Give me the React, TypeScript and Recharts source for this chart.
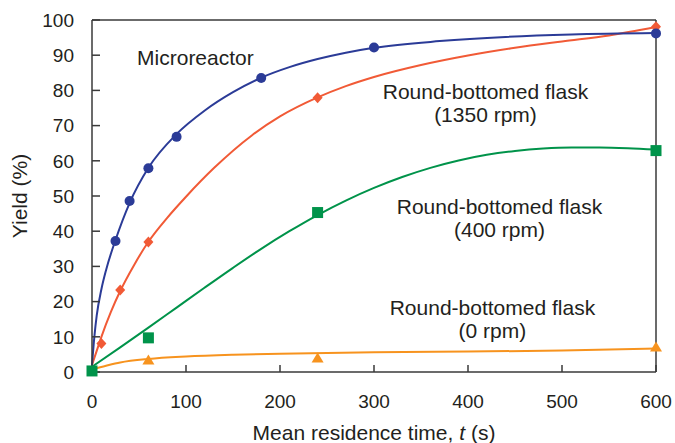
import React from "react";
import {
  ComposedChart,
  Line,
  Scatter,
  XAxis,
  YAxis,
  ReferenceLine,
  ReferenceDot,
} from "recharts";

// ---- data ----
const xTicks = [0, 100, 200, 300, 400, 500, 600];
const yTicks = [0, 10, 20, 30, 40, 50, 60, 70, 80, 90, 100];

// measured points
const microX = [25, 40, 60, 90, 180, 300, 600];
const microY = [37.2, 48.6, 57.9, 66.8, 83.5, 92.2, 96.2];
const rpm1350X = [10, 30, 60, 240, 600];
const rpm1350Y = [8.1, 23.3, 36.9, 77.9, 98.1];
const rpm400X = [0, 60, 240, 600];
const rpm400Y = [0.3, 9.7, 45.3, 62.9];
const rpm0X = [60, 240, 600];
const rpm0Y = [3.4, 4.0, 7.1];

// fitted curves
const microCurveX = [0, 2.5, 5, 10, 15, 25, 40, 60, 90, 120, 150, 180, 210, 240, 270, 300, 370, 440, 510, 600];
const microCurveY = [2, 10, 16, 23.5, 29, 37.5, 48, 58, 67.6, 74.3, 79.5, 83.6, 86.6, 88.9, 90.7, 92.1, 94.0, 95.2, 95.9, 96.3];
const c1350X = [0, 5, 10, 20, 30, 45, 60, 80, 100, 130, 170, 200, 240, 270, 300, 350, 400, 450, 500, 550, 600];
const c1350Y = [2, 6, 10, 17, 23, 30.5, 37, 43.8, 49.8, 58.0, 67.2, 72.6, 78.0, 81.2, 83.8, 87.2, 89.9, 92.1, 93.9, 95.6, 98];
const c400X = [0, 30, 60, 90, 120, 150, 180, 210, 240, 270, 300, 330, 360, 390, 420, 450, 480, 510, 540, 570, 600];
const c400Y = [1.5, 7.0, 12.6, 18.3, 24.0, 29.6, 35.0, 40.0, 44.6, 48.7, 52.3, 55.4, 58.0, 60.1, 61.7, 62.8, 63.5, 63.8, 63.8, 63.6, 63.2];
const c0X = [0, 15, 30, 60, 100, 150, 200, 300, 400, 500, 600];
const c0Y = [0.8, 1.8, 2.7, 3.7, 4.4, 4.9, 5.2, 5.6, 5.8, 6.1, 6.7];

// annotations
const annotationLines = [
  ["Microreactor"],
  ["Round-bottomed flask", "(1350 rpm)"],
  ["Round-bottomed flask", "(400 rpm)"],
  ["Round-bottomed flask", "(0 rpm)"],
];
const annotationX = [110, 418.6, 433.5, 426];
const annotationY = [87.2, 77.6, 44.9, 16.2];

const xTitle = "Mean residence time, ";
const xTitleVar = "t";
const xTitleUnit = " (s)";
const yTitle = "Yield (%)";

// ---- styles ----
const FONT = "'Liberation Sans', Arial, Helvetica, sans-serif";
const TEXT = "#231f20";
const AXIS = "#3a3a3a";
const BLUE = "#2b3b97";
const RED = "#f15a36";
const GREEN = "#00934a";
const ORANGE = "#f7931e";

const zip = (xs: number[], ys: number[]) => xs.map((x, i) => ({ x, y: ys[i] }));

const Circle = (color: string) => (p: any) =>
  <circle cx={p.cx} cy={p.cy} r={5} fill={color} />;
const Diamond = (color: string) => (p: any) =>
  <polygon
    points={`${p.cx},${p.cy - 5.5} ${p.cx + 5},${p.cy} ${p.cx},${p.cy + 5.5} ${p.cx - 5},${p.cy}`}
    fill={color}
  />;
const Square = (color: string) => (p: any) =>
  <rect x={p.cx - 5.5} y={p.cy - 5.5} width={11} height={11} fill={color} />;
const Triangle = (color: string) => (p: any) =>
  <polygon
    points={`${p.cx},${p.cy - 5.5} ${p.cx + 6},${p.cy + 4.5} ${p.cx - 6},${p.cy + 4.5}`}
    fill={color}
  />;

const annotationLabel = (lines: string[]) => (props: any) => {
  const vb = props.viewBox || {};
  const cx = (vb.x ?? 0) + (vb.width ?? 0) / 2;
  const cy = (vb.y ?? 0) + (vb.height ?? 0) / 2;
  return (
    <text x={cx} y={cy} textAnchor="middle" fontFamily={FONT} fontSize={21} fill={TEXT}>
      {lines.map((l, i) => (
        <tspan key={i} x={cx} y={cy + i * 23}>
          {l}
        </tspan>
      ))}
    </text>
  );
};

const XTitle = (props: any) => {
  const vb = props.viewBox;
  return (
    <text
      x={vb.x + vb.width / 2}
      y={vb.y + 68}
      textAnchor="middle"
      fontFamily={FONT}
      fontSize={21}
      fill={TEXT}
    >
      {xTitle}
      <tspan fontStyle="italic">{xTitleVar}</tspan>
      {xTitleUnit}
    </text>
  );
};

const YTitle = (props: any) => {
  const vb = props.viewBox;
  const x = 27;
  const y = vb.y + vb.height / 2;
  return (
    <text
      x={x}
      y={y}
      textAnchor="middle"
      fontFamily={FONT}
      fontSize={21}
      fill={TEXT}
      transform={`rotate(-90, ${x}, ${y})`}
    >
      {yTitle}
    </text>
  );
};

export default function App() {
  const tickStyle = { fontFamily: FONT, fontSize: 19, fill: TEXT };
  return (
    <div style={{ position: "absolute", left: 0, top: 0 }}>
      <ComposedChart width={675} height={443} margin={{ top: 20, right: 19, bottom: 0, left: 0 }}>
        <XAxis
          type="number"
          dataKey="x"
          domain={[0, 600]}
          ticks={xTicks}
          height={71}
          tickSize={-7}
          tickMargin={30}
          tick={tickStyle}
          stroke={AXIS}
          strokeWidth={1.5}
          interval={0}
          label={<XTitle />}
        />
        <YAxis
          type="number"
          dataKey="y"
          domain={[0, 100]}
          ticks={yTicks}
          width={92}
          tickSize={-8}
          tickMargin={26}
          tick={tickStyle}
          stroke={AXIS}
          strokeWidth={1.5}
          interval={0}
          label={<YTitle />}
        />
        <ReferenceLine y={100} stroke={AXIS} strokeWidth={1.5} />
        <ReferenceLine x={600} stroke={AXIS} strokeWidth={1.5} />

        <Line data={zip(c0X, c0Y)} dataKey="y" type="monotone" stroke={ORANGE} strokeWidth={2} dot={false} isAnimationActive={false} />
        <Line data={zip(c400X, c400Y)} dataKey="y" type="monotone" stroke={GREEN} strokeWidth={2} dot={false} isAnimationActive={false} />
        <Line data={zip(c1350X, c1350Y)} dataKey="y" type="monotone" stroke={RED} strokeWidth={2} dot={false} isAnimationActive={false} />
        <Line data={zip(microCurveX, microCurveY)} dataKey="y" type="monotone" stroke={BLUE} strokeWidth={2} dot={false} isAnimationActive={false} />

        <Scatter data={zip(rpm0X, rpm0Y)} dataKey="y" shape={Triangle(ORANGE)} isAnimationActive={false} />
        <Scatter data={zip(rpm400X, rpm400Y)} dataKey="y" shape={Square(GREEN)} isAnimationActive={false} />
        <Scatter data={zip(rpm1350X, rpm1350Y)} dataKey="y" shape={Diamond(RED)} isAnimationActive={false} />
        <Scatter data={zip(microX, microY)} dataKey="y" shape={Circle(BLUE)} isAnimationActive={false} />

        {annotationLines.map((lines, i) => (
          <ReferenceDot
            key={i}
            x={annotationX[i]}
            y={annotationY[i]}
            r={0}
            fill="none"
            stroke="none"
            label={annotationLabel(lines)}
          />
        ))}
      </ComposedChart>
    </div>
  );
}
